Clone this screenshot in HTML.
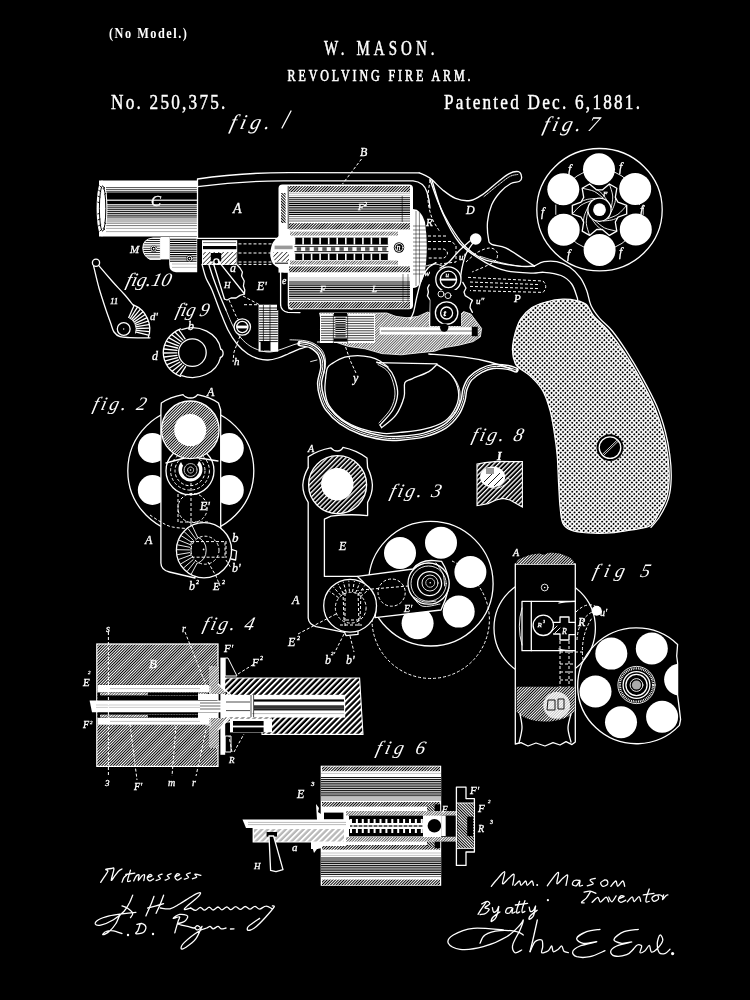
<!DOCTYPE html>
<html><head><meta charset="utf-8"><title>W. Mason Revolving Fire Arm</title>
<style>
html,body{margin:0;padding:0;background:#000;}
body{width:750px;height:1000px;overflow:hidden;font-family:"Liberation Serif",serif;}
svg{display:block;position:absolute;left:0;top:0;}
text{font-family:"Liberation Serif",serif;fill:#fff;}
.s{font-style:italic;}
text.s{stroke:#fff;stroke-width:.3;}
.l{fill:none;stroke:#fff;stroke-width:1.3;stroke-linecap:round;stroke-linejoin:round;}
.t{fill:none;stroke:#fff;stroke-width:0.9;stroke-linecap:round;stroke-linejoin:round;}
.d{fill:none;stroke:#fff;stroke-width:1;stroke-dasharray:3 2;}
.w{fill:#fff;stroke:none;}
.k{fill:#000;stroke:none;}
.kb{fill:#000;stroke:#fff;stroke-width:1.3;stroke-linejoin:round;}
</style></head><body>
<svg width="750" height="1000" viewBox="0 0 750 1000">
<filter id="sb" x="0" y="0" width="100%" height="100%" filterUnits="userSpaceOnUse"><feGaussianBlur stdDeviation="0.4"/></filter>
<g filter="url(#sb)">
<defs>
<pattern id="hf" width="2.0" height="2.0" patternUnits="userSpaceOnUse" patternTransform="rotate(-45)">
<rect width="2.0" height="2.0" fill="#000"/><rect width="2.0" height="1.0" fill="#fff"/></pattern>
<pattern id="hb" width="2.0" height="2.0" patternUnits="userSpaceOnUse" patternTransform="rotate(45)">
<rect width="2.0" height="2.0" fill="#000"/><rect width="2.0" height="1.0" fill="#fff"/></pattern>
<pattern id="hc" width="4.2" height="4.2" patternUnits="userSpaceOnUse" patternTransform="rotate(-45)">
<rect width="4.2" height="4.2" fill="#000"/><rect width="4.2" height="1.9" fill="#fff"/></pattern>
<pattern id="hm" width="3.3" height="3.3" patternUnits="userSpaceOnUse" patternTransform="rotate(-45)">
<rect width="3.3" height="3.3" fill="#000"/><rect width="3.3" height="1.3" fill="#fff"/></pattern>
<pattern id="hl" width="4" height="2.2" patternUnits="userSpaceOnUse">
<rect width="4" height="2.2" fill="#fff"/><rect width="4" height="0.8" y="1.4" fill="#000"/></pattern>
<pattern id="hd" width="4" height="2.2" patternUnits="userSpaceOnUse">
<rect width="4" height="2.2" fill="#000"/><rect width="4" height="0.9" fill="#fff"/></pattern>
<pattern id="gr" width="3.25" height="3.25" patternUnits="userSpaceOnUse" patternTransform="rotate(45)">
<rect width="3.25" height="3.25" fill="#fff"/><circle cx="1.6" cy="1.6" r="1" fill="#000"/></pattern>
<pattern id="fg" width="1.9" height="1.9" patternUnits="userSpaceOnUse" patternTransform="rotate(-45)">
<rect width="1.9" height="1.9" fill="#fff"/><rect width="1.9" height="0.6" fill="#000"/></pattern>
<pattern id="hw" width="3.2" height="3.2" patternUnits="userSpaceOnUse" patternTransform="rotate(-45)">
<rect width="3.2" height="3.2" fill="#fff"/><rect width="3.2" height="0.8" fill="#333"/></pattern>
</defs>
<rect width="750" height="1000" fill="#000"/>

<g id="hdr" stroke="#fff" stroke-width="0.45">
<g transform="translate(109,37.5) scale(0.85,1)"><text font-size="14.5" font-weight="bold" stroke-width="0" textLength="91.7" lengthAdjust="spacing">(No Model.)</text></g>
<g transform="translate(324,54.5) scale(0.75,1)"><text font-size="20" textLength="147.5" lengthAdjust="spacing">W. MASON.</text></g>
<g transform="translate(287.5,80.7) scale(0.75,1)"><text font-size="16" textLength="244" lengthAdjust="spacing" stroke-width="0.6">REVOLVING FIRE ARM.</text></g>
<g transform="translate(111,108.5) scale(0.8,1)"><text font-size="21.5" textLength="143" lengthAdjust="spacing">No. 250,375.</text></g>
<g transform="translate(444,108.5) scale(0.8,1)"><text font-size="21.5" textLength="245" lengthAdjust="spacing">Patented Dec. 6,1881.</text></g>
</g>
<g id="figl" class="s" font-size="19">
<g transform="translate(229,129) skewX(-14)"><text font-size="21" textLength="40" lengthAdjust="spacing">fig.</text></g><path class="l" d="M282 128 L291 111"/>
<g transform="translate(542,131) skewX(-14)"><text font-size="21" textLength="38" lengthAdjust="spacing">fig.</text><text x="45" font-size="21">7</text></g>
<g transform="translate(125,286) skewX(-14)"><text textLength="45" lengthAdjust="spacingAndGlyphs">fig.10</text></g>
<g transform="translate(175,316) skewX(-14)"><text textLength="33" lengthAdjust="spacingAndGlyphs">fig 9</text></g>
<g transform="translate(92,410) skewX(-14)"><text textLength="53" lengthAdjust="spacing">fig. 2</text></g>
<g transform="translate(389,497) skewX(-14)"><text textLength="51" lengthAdjust="spacing">fig. 3</text></g>
<g transform="translate(471,441) skewX(-14)"><text textLength="51" lengthAdjust="spacing">fig. 8</text></g>
<g transform="translate(592,577) skewX(-14)"><text textLength="57" lengthAdjust="spacing">fig 5</text></g>
<g transform="translate(202,630) skewX(-14)"><text textLength="51" lengthAdjust="spacing">fig. 4</text></g>
<g transform="translate(375,754) skewX(-14)"><text textLength="49" lengthAdjust="spacing">fig 6</text></g>
</g>

<g id="barrel">
<rect class="w" x="99" y="180.5" width="98.5" height="56" />
<rect class="k" x="106.5" y="192.4" width="90.5" height="7.2" />
<rect class="k" x="106.5" y="200.8" width="90.5" height="3.4" />
<path d="M106 187.6H197M106 189.6H197M106 191.4H197" stroke="#000" stroke-width="0.7" fill="none"/>
<path d="M106 205.9H197M106 207.8H197M106 209.7H197M106 211.6H197M106 213.4H197M106 215.2H197M106 217H197" stroke="#000" stroke-width="0.95" fill="none"/>
<path d="M106 219H197M106 221H197M106 223.2H197M106 225.6H197" stroke="#000" stroke-width="0.55" fill="none"/>
<path d="M106 228.4H197M106 231.6H197" stroke="#555" stroke-width="0.5" fill="none"/>
<ellipse class="w" cx="102" cy="208.5" rx="5.4" ry="28" />
<ellipse class="" cx="102.6" cy="208.5" rx="3.2" ry="22.5" fill="none" stroke="#000" stroke-width="1"/>
<path d="M98.2 190 l3 2 M97.6 196 l2.8 1.2 M97.4 202 l2.4 .8 M97.4 214 l2.4 -.6 M97.6 220 l2.8 -1 M98.2 226 l3 -1.6 M99.6 231.4 l2.6 -2.6 M99.6 185.6 l2.6 2.6 M104.6 187 l-1 2.4 M104.6 230 l-1 -2.4 M106 193 l-1.4 1.6 M106 224 l-1.4 -1.6" stroke="#000" stroke-width=".9"/>
</g>
<g id="lug">
<path d="M160.4 238 H153 Q142.8 239 142.8 248 Q143 256 150 259.4 H160.4Z" fill="url(#hl)" stroke="#fff" stroke-width="1"/>
<circle class="k" cx="153.7" cy="248.7" r="3.3" />
<circle class="t" cx="153.7" cy="248.7" r="2.6" />
<circle class="w" cx="153.7" cy="248.7" r="0.9" />
<rect class="w" x="160.4" y="237" width="8.8" height="22.4" />
<path d="M169.2 237 H197.2 V272.2 H176 Q169.2 272 169.2 264Z" fill="#fff"/>
<path d="M170 239.2H196.6M170 241.4H196.6M170 243.6H196.6M170 245.8H196.6M170 248H196.6M170 250.2H196.6M170 252.4H196.6M170 254.6H196.6M170 256.8H196.6M170 259H196.6M170 261.2H196.6" stroke="#000" stroke-width="1.1" fill="none"/>
<path d="M172 264H196.6M172 267.4H196.6" stroke="#777" stroke-width="0.5" fill="none"/>
<circle class="k" cx="189.5" cy="258.6" r="3.4" />
<circle class="t" cx="189.5" cy="258.6" r="2.5" />
<circle class="w" cx="189.5" cy="258.6" r="0.8" />
</g>
<g id="frame">
<path class="l" d="M197.5 238 V179 Q240 172.4 292 172.6 L419 172.8"/>
<path class="l" d="M197.5 186.6 Q240 181 284 180.8 L413 180.8 Q424 182 427 192 Q429.5 200 430 208"/>
<path class="l" d="M197.5 238.3 L277.5 238.3" />
<rect class="w" x="202" y="240.2" width="35.2" height="24.8" />
<rect class="k" x="203" y="246" width="33.4" height="3.2" />
<rect class="k" x="203" y="252" width="33.4" height="12" />
<rect x="203" y="252" width="33.4" height="12.4" fill="url(#hw)"/>
<rect class="k" x="210.8" y="253" width="10.4" height="8.4" />
<circle class="kb" cx="216.4" cy="261.5" r="2.6" />
<path d="M203 242.6H236" stroke="#000" stroke-width="0.6" fill="none"/>
<path class="d" d="M238.5 243.9 L273 243.9" stroke-width="1.2" stroke-dasharray="4 3"/>
<path class="d" d="M238.5 253 L273 253" stroke-width="1.2" stroke-dasharray="4 3"/>
<path class="d" d="M238.5 262 L273 262" stroke-width="1.2" stroke-dasharray="4 3"/>
<path class="d" d="M238.5 264.4 L273 264.4" stroke-width="1.2" stroke-dasharray="4 3"/>
<path class="l" d="M213.4 263.2 L224.4 298.8"  stroke-width="1.6"/>
<path class="l" d="M218.2 260.8 L244.6 294"  stroke-width="1.8"/>
<path class="l" d="M237.2 265 L240 268 L242.4 272 L241.6 276 L244.2 281 L243.4 286 L244.8 290 L244.4 294 L240 295.4 L236 298 L231 298 L227 300 L224.4 299" />
<path class="l" d="M202 264.4 C202.7 266.7 204.3 273.7 206 278 C207.7 282.3 209.7 284.5 212 290 C214.3 295.5 217.3 304.3 220 311 C222.7 317.7 225.2 324.5 228 330 C230.8 335.5 233.7 340 237 344 C240.3 348 244.5 351.6 248 354 C251.5 356.4 254.7 357.6 258 358.6 C261.3 359.6 264.7 360.1 268 360 C271.3 359.9 274.7 359 278 358 C281.3 357 284.7 355.4 288 354 C291.3 352.6 294.7 350.9 298 349.6 C301.3 348.3 306.3 346.9 308 346.4" />
<path class="l" d="M209 265 C209.8 267.3 211.8 274 213.6 279 C215.4 284 217.5 289.8 219.6 295 C221.7 300.2 224.9 307.5 226 310" />
<path class="t" d="M226 310 C227.2 312.7 230.5 321.3 233 326 C235.5 330.7 238.2 334.7 241 338 C243.8 341.3 246.8 343.9 250 346 C253.2 348.1 256.7 349.4 260 350.4 C263.3 351.4 266.3 352.2 270 352 C273.7 351.8 278 350.2 282 349 C286 347.8 290 345.8 294 344.6 C298 343.4 304 342.4 306 342" />
<path class="d" d="M229 300 L236 316 L240 322" />
<path class="d" d="M243 296 L259 304.5" />
<circle class="kb" cx="242.3" cy="327" r="8.2" stroke-width="1.8"/>
<circle class="l" cx="242.3" cy="327" r="5.6" stroke-width="1"/>
<rect class="w" x="236.8" y="325.6" width="11" height="2.8" />
<path class="d" d="M240 336 L234 352 L233 362" />
<rect class="w" x="258.6" y="304.7" width="19.6" height="47" />
<path d="M259.2 308H277.8M259.2 310.4H277.8M259.2 312.8H277.8M259.2 315.2H277.8M259.2 317.6H277.8M259.2 320H277.8M259.2 322.4H277.8M259.2 324.8H277.8M259.2 327.2H277.8M259.2 329.6H277.8M259.2 332H277.8M259.2 334.4H277.8M259.2 336.8H277.8M259.2 339.2H277.8M259.2 341.6H277.8" stroke="#000" stroke-width="0.9" fill="none"/>
<path d="M263.4 305V351M270 305V351" stroke="#000" stroke-width="0.7" fill="none"/>
<rect class="k" x="260.6" y="341" width="9.6" height="9.6" />
<path class="d" d="M244 304.7 L258 304.7" />
</g>

<g id="cyl">
<rect x="278.5" y="184.5" width="134.5" height="124.8" rx="4" fill="#fff"/>
<rect x="289" y="186" width="121" height="6.2" fill="url(#hf)"/>
<rect x="289" y="223.2" width="121" height="6.2" fill="url(#hf)"/>
<rect x="289" y="266.4" width="121" height="5.8" fill="url(#hf)"/>
<rect x="289" y="302" width="121" height="6.4" fill="url(#hf)"/>
<path d="M289 193.6H410M289 195.6H410" stroke="#888" stroke-width="0.5" fill="none"/>
<path d="M289 197.8H410M289 199.8H410M289 201.8H410M289 203.6H410M289 205.4H410M289 207.2H410M289 209H410M289 210.8H410M289 212.6H410M289 214.4H410" stroke="#000" stroke-width="1.05" fill="none"/>
<path d="M289 216.6H410M289 218.8H410M289 221H410" stroke="#000" stroke-width="0.6" fill="none"/>
<path d="M289 278H410M289 280H410" stroke="#888" stroke-width="0.5" fill="none"/>
<path d="M289 282H410M289 284H410M289 285.8H410M289 287.6H410M289 289.4H410M289 291.2H410M289 293H410M289 294.8H410M289 296.6H410" stroke="#000" stroke-width="1.05" fill="none"/>
<path d="M289 298.6H410M289 300.6H410" stroke="#000" stroke-width="0.6" fill="none"/>
<rect x="281" y="193" width="4.6" height="30" fill="url(#hb)"/>
<path class="" d="M288.2 186 L288.2 229" stroke="#000" stroke-width=".8"/>
<path d="M277 272.6 H288.4 V310 H277Z" fill="#000"/>
<path class="l" d="M288.4 272.6 V305 Q288.4 309 292 309.3"/>
<rect x="290" y="231.6" width="108" height="4" fill="url(#fg)"/>
<rect x="290" y="260.6" width="108" height="4" fill="url(#fg)"/>
<rect class="k" x="294.5" y="237.6" width="94" height="7" />
<rect class="k" x="294.5" y="253.6" width="94" height="6.4" />
<path d="M294.5 237.6 v7 M294.5 260 v-6.4" stroke="#fff" stroke-width="1.6"/>
<path d="M303.1 237.6 v7 M303.1 260 v-6.4" stroke="#fff" stroke-width="1.6"/>
<path d="M311.6 237.6 v7 M311.6 260 v-6.4" stroke="#fff" stroke-width="1.6"/>
<path d="M320.1 237.6 v7 M320.1 260 v-6.4" stroke="#fff" stroke-width="1.6"/>
<path d="M328.7 237.6 v7 M328.7 260 v-6.4" stroke="#fff" stroke-width="1.6"/>
<path d="M337.2 237.6 v7 M337.2 260 v-6.4" stroke="#fff" stroke-width="1.6"/>
<path d="M345.8 237.6 v7 M345.8 260 v-6.4" stroke="#fff" stroke-width="1.6"/>
<path d="M354.4 237.6 v7 M354.4 260 v-6.4" stroke="#fff" stroke-width="1.6"/>
<path d="M362.9 237.6 v7 M362.9 260 v-6.4" stroke="#fff" stroke-width="1.6"/>
<path d="M371.4 237.6 v7 M371.4 260 v-6.4" stroke="#fff" stroke-width="1.6"/>
<path d="M380 237.6 v7 M380 260 v-6.4" stroke="#fff" stroke-width="1.6"/>
<path d="M388.6 237.6 v7 M388.6 260 v-6.4" stroke="#fff" stroke-width="1.6"/>
<path d="M294.5 246.6H388.5M294.5 251.6H388.5" stroke="#000" stroke-width="0.9" fill="none"/>
<rect class="" x="296.7" y="247.2" width="4.4" height="3.6" fill="#555"/>
<rect class="" x="305.2" y="247.2" width="4.4" height="3.6" fill="#555"/>
<rect class="" x="313.8" y="247.2" width="4.4" height="3.6" fill="#555"/>
<rect class="" x="322.3" y="247.2" width="4.4" height="3.6" fill="#555"/>
<rect class="" x="330.9" y="247.2" width="4.4" height="3.6" fill="#555"/>
<rect class="" x="339.4" y="247.2" width="4.4" height="3.6" fill="#555"/>
<rect class="" x="348" y="247.2" width="4.4" height="3.6" fill="#555"/>
<rect class="" x="356.6" y="247.2" width="4.4" height="3.6" fill="#555"/>
<rect class="" x="365.1" y="247.2" width="4.4" height="3.6" fill="#555"/>
<rect class="" x="373.6" y="247.2" width="4.4" height="3.6" fill="#555"/>
<rect class="" x="382.2" y="247.2" width="4.4" height="3.6" fill="#555"/>
<circle class="k" cx="399" cy="247.5" r="5.2" />
<circle class="t" cx="399" cy="247.5" r="4" />
<text class="s" x="396.6" y="250" font-size="8" >n</text>
<path d="M391 241 a10 10 0 0 0 0 13" class="t" stroke-dasharray="1.5 1.2"/>
<path d="M289 231.5 Q282 233 278.8 236 Q272 242 271.3 246.7 Q270 252 270.3 256 Q271 261 272.9 263.7 Q276 267 278.8 268 Q280 271 284 272.4 H289 Z" fill="#fff"/>
<path d="M273.4 252 H289 V261.8 H276 L273.4 259Z" fill="url(#hw)"/>
<rect class="" x="274.6" y="245.6" width="18" height="3.6" fill="#999"/>
<path class="" d="M275 263.2 L288 263.2" stroke="#000" stroke-width="1"/>
<path class="l" d="M280.6 271 L280.6 305" />
<path class="l" d="M280.6 305 Q281 311 288 312.4 L300 312.6"/>
<path d="M402.2 196V222" stroke="#000" stroke-width="0.6" fill="none"/>
<path d="M403 274V302M408 274V302" stroke="#000" stroke-width="0.5" fill="none"/>
</g>
<g id="ratchet">
<path d="M413 209 Q421 209 425 222 Q428.6 247 425 272 Q421 288 413 288Z" fill="#fff"/>
<path d="M416 211V286M419.4 211V286" stroke="#000" stroke-width="0.5" fill="none"/>
<path d="M413 226H427M413 230H427M413 234H427M413 238H427M413 242H427M413 246H427M413 250H427M413 254H427M413 258H427M413 262H427M413 266H427M413 270H427M413 274H427" stroke="#000" stroke-width="0.5" fill="none"/>
</g>
<text class="s" x="151" y="205.6" font-size="15" >C</text>
<text class="s" x="233" y="213" font-size="14" >A</text>
<text class="s" x="130" y="252.6" font-size="11" textLength="11">M</text>
<text class="s" x="360" y="156" font-size="12" >B</text>
<path class="d" d="M361.5 159 L342.5 184" stroke-dasharray="3 1.5"/>
<text class="s" x="358" y="210" font-size="9" >F</text>
<text class="s" x="364" y="206" font-size="6" >2</text>
<text class="s" x="320" y="292" font-size="9" >F</text>
<text class="s" x="372" y="292" font-size="9" >L</text>
<text class="s" x="257" y="290" font-size="12" >E'</text>
<text class="s" x="230" y="272" font-size="12" >a</text>
<text class="s" x="224" y="288" font-size="9" >H</text>
<text class="s" x="282" y="284" font-size="10" >e</text>

<g id="lower">
<path class="" d="M319.6 313 L386.8 313 L396 316.4 L407 317.8 L418 316.4 L427.6 312 L430 313 L430 326 L461 326 L461 314 L463.6 311.6 L470.8 314 L478 323.6 L481.6 328.4 L480.4 336.8 L473.2 341.6 L458.8 345.2 L444.4 347.6 L434.8 351.2 L418 352.9 L401.2 354.8 L382 353.6 L365.2 348.8 L348.4 346.4 L334 341.6 L324.4 338 L320.4 330 L321.4 322Z" fill="url(#fg)" stroke="#fff" stroke-width="0.8"/>
<rect class="w" x="320" y="314" width="55" height="29" />
<path d="M321 316.4H374M321 318.8H374M321 321.2H374M321 323.6H374M321 326H374M321 328.4H374M321 330.8H374M321 333.2H374M321 335.6H374M321 338H374M321 340.4H374" stroke="#000" stroke-width="0.75" fill="none"/>
<rect class="k" x="334" y="313" width="13" height="3" />
<rect class="k" x="334" y="338.4" width="13" height="3.2" />
<rect class="" x="335.4" y="317" width="10.2" height="20.4" fill="url(#hd)"/>
<path d="M333.4 314V343M347.6 314V343" stroke="#000" stroke-width="0.6" fill="none"/>
<rect class="w" x="379.6" y="327.2" width="98.4" height="7.4" />
<path d="M381 331H472" stroke="#000" stroke-width="0.6" fill="none"/>
<rect class="k" x="471.8" y="326.8" width="6" height="9.4" />
<path class="l" d="M429.2 284.8 L427.6 288 L428.4 292 L427.4 296 L430.4 300.4 L429.8 326" />
<path class="l" d="M462.8 282.4 L466 288 L464 292 L465.2 295.6 L469 298 L472.4 300.4 L470.6 304 L470 307.6 L472.4 312.4" />
<path class="l" d="M436 262.6 C434.7 263.5 430.3 265.4 428 268 C425.7 270.6 423.8 273.3 422 278 C420.2 282.7 418.4 290.3 417 296 C415.6 301.7 414.8 308.1 413.6 312 C412.4 315.9 410.6 318.3 410 319.6" stroke-width="2"/>
</g>
<g id="hammer">
<path class="l" d="M419.2 172.8 C421 173.7 426 175.2 429.9 178.1 C433.8 180.9 438.4 186.5 442.7 189.9 C447 193.3 450.9 196.6 455.5 198.4 C460.1 200.2 465.8 201.2 470.4 200.5 C475 199.8 478.9 196.9 483.2 194.1 C487.5 191.3 491.7 186.9 496 183.5 C500.3 180.1 505.1 175.9 508.8 173.9 C512.5 171.9 516.3 171.2 518.4 171.7 C520.5 172.2 521.4 175.5 521.6 177.1 C521.8 178.7 521.3 180.2 519.5 181.3 C517.7 182.4 514.1 181.7 510.9 183.5 C507.7 185.3 503.5 188.4 500.3 192 C497.1 195.6 493.8 199.8 491.7 204.8 C489.6 209.8 488 216.2 487.5 221.9 C487 227.6 487.8 235.2 488.5 238.9 C489.2 242.6 488.8 242.8 491.7 244.3 C494.6 245.8 500.4 245.4 505.6 247.8 C510.8 250.2 517.9 255.5 522.7 258.5 C527.5 261.5 532.5 264.8 534.4 266" />
<path class="t" d="M484 196.6 C486.2 194.8 492.7 189.3 497 186 C501.3 182.7 506.1 178.5 509.6 176.6 C513.1 174.7 516.6 174.8 518 174.4" stroke-dasharray="1 1"/>
<path class="l" d="M429.9 179.2 C431.3 183.1 435.2 195.2 438.4 202.7 C441.6 210.2 444.8 216.9 449.1 224 C453.4 231.1 458.7 239.6 464 245.3 C469.3 251 475.8 255.3 481.1 258.1 C486.4 261 489.6 261 496 262.4 C502.4 263.8 513.1 265.6 519.5 266.2 C525.9 266.8 531.9 266 534.4 266" />
<path class="l" d="M432 180.3 C433.8 185.8 438.1 202.8 442.7 213.3 C447.3 223.8 452.6 235 459.7 243.2 C466.8 251.4 477.5 257.8 485.3 262.4 C493.1 267 498.9 269.1 506.7 270.9 C514.5 272.7 526.1 272.9 532.3 273.1 C538.5 273.3 539.2 271.9 544 272.3 C548.8 272.7 556.4 273.6 561 275.5 C565.6 277.4 569 280.4 571.7 284 C574.4 287.6 576 294.3 577 297 C578 299.7 577.5 299.5 577.6 300" />
<path class="t" d="M480 256.3 C483.6 257.4 494.2 261 501.3 262.7 C508.4 264.4 517.2 266.1 522.7 266.6 C528.2 267.2 532.5 266.1 534.4 266" />
<path class="l" d="M534.4 266 C536 265.3 540.3 262.4 544 261.7 C547.7 261 552.5 260.8 556.8 261.7 C561.1 262.6 565.7 264.3 569.6 267 C573.5 269.7 577.4 273.8 580.3 277.7 C583.1 281.6 584.9 285.9 586.7 290.5 C588.5 295.1 588.9 300.8 591 305.4 C593.1 310 596 313.9 599.5 318.2 C603 322.5 607.9 325.6 612.3 331 C616.7 336.4 620.9 342.5 626 350.4 C631.1 358.3 637.6 369.2 642.8 378.6 C648 388 653.2 397.7 657 406.6 C660.8 415.5 663.3 423.9 665.4 432 C667.5 440.1 668.8 447.3 669.8 455 C670.8 462.7 671.4 471.1 671.2 478.4 C671 485.7 670.3 492.3 668.4 498.6 C666.5 504.9 662.9 511.2 660 516 C657.1 520.8 652.5 525.5 651 527.4" />
<circle class="w" cx="475.7" cy="239" r="5.8" />
<path class="d" d="M430 180 C429.7 183.3 427.7 193.7 428 200 C428.3 206.3 430 212.7 432 218 C434 223.3 438.7 229.7 440 232" />
<path class="d" d="M428 236 L446 236" />
<path class="d" d="M428 241.5 L452 241.5 L456 246 L456 262 L440 264" />
<path class="d" d="M428 249 H444 Q451 253 444 258 H428"/>
<path class="l" d="M473 243 C471.8 244.8 467.8 249.8 466 254 C464.2 258.2 463 263.3 462 268 C461 272.7 460.3 279.7 460 282" stroke-width="1.6"/>
<path class="l" d="M470 241 C468 242.8 461.5 248.5 458 252 C454.5 255.5 452 259.3 449 262 C446 264.7 441.5 267 440 268" />
<path class="t" d="M426 266 C427.7 265.7 432.7 263.7 436 264 C439.3 264.3 444.3 267.3 446 268" />
<path class="d" d="M466 262 C468 260.3 474 254.3 478 252 C482 249.7 486.8 248 490 248 C493.2 248 496 250 497 252 C498 254 497.8 257.7 496 260 C494.2 262.3 490 264 486 266 C482 268 474.3 271 472 272" />
<circle class="kb" cx="448.4" cy="279.4" r="12.6" stroke-width="1.7"/>
<circle class="l" cx="448.4" cy="279.4" r="8.2" stroke-width="1.2"/>
<rect class="w" x="440.6" y="278.6" width="15.6" height="2" />
<text class="s" x="445.6" y="277" font-size="7" >u</text>
<rect class="k" x="430.4" y="290" width="30.6" height="36" />
<circle class="kb" cx="446.6" cy="313" r="11.2" stroke-width="1.6"/>
<circle class="l" cx="446.6" cy="313" r="6" stroke-width="1.2"/>
<text class="s" x="443.6" y="316" font-size="9" font-weight="bold">t</text>
<circle class="k" cx="444.2" cy="327.6" r="4.2" />
<circle class="t" cx="441" cy="294" r="3" />
<circle class="t" cx="448" cy="295.6" r="3" />
<path class="d" d="M468 277.4 L543 281 Q548.5 286.6 543 292.4 L470 290.6" stroke-width="1.1"/>
<path class="d" d="M470 282 L540 284.6 M470 286.4 L540 288.6" stroke-width="0.9"/>
<text class="s" x="466" y="214" font-size="12" >D</text>
<text class="s" x="426" y="226" font-size="11" >R</text>
<text class="s" x="424" y="276" font-size="9" >w</text>
<text class="s" x="459" y="260" font-size="9" >u'</text>
<text class="s" x="476" y="304" font-size="9" >u"</text>
<text class="s" x="514" y="302" font-size="11" >P</text>
</g>

<g id="grip">
<path d="M515.2 332.8 C516.6 327.7 518 323 520.8 318.8 C523.6 314.6 527.8 310.4 532 307.6 C536.2 304.8 540.9 303.4 546 302 C551.1 300.6 557.7 299.4 562.8 299.2 C567.9 299 572.8 299.7 576.8 300.6 C580.8 301.5 583.8 302.2 586.6 304.8 C589.4 307.4 590.1 311.8 593.6 316 C597.1 320.2 602.5 323.9 607.6 330 C612.7 336.1 618.8 344 624.4 352.4 C630 360.8 636.1 371.1 641.2 380.4 C646.3 389.7 651.5 399.5 655.2 408.4 C658.9 417.3 661.5 425.7 663.6 433.6 C665.7 441.5 666.9 448.5 667.8 456 C668.7 463.5 669.4 471.4 669.2 478.4 C669 485.4 668.3 491.9 666.4 498 C664.5 504.1 660.8 510.1 658 514.8 C655.2 519.5 654.3 523.4 649.6 526 C644.9 528.6 636.5 529 630 530.2 C623.5 531.4 617.4 532.5 610.4 533 C603.4 533.5 594.5 533.5 588 533 C581.5 532.5 575.4 531.8 571.2 530.2 C567 528.6 564.7 527.2 562.8 523.2 C560.9 519.2 560.7 512.9 560 506.4 C559.3 499.9 559.1 492.4 558.6 484 C558.1 475.6 557.9 464.4 557.2 456 C556.5 447.6 555.6 441.1 554.4 433.6 C553.2 426.1 552.1 418.2 550.2 411.2 C548.3 404.2 546.2 397.2 543.2 391.6 C540.2 386 535.7 381.3 532 377.6 C528.3 373.9 523.6 371.5 520.8 369.2 C518 366.9 516.6 366.9 515.2 363.6 C513.8 360.3 512.4 354.7 512.4 349.6 C512.4 344.5 513.8 337.9 515.2 332.8Z" fill="url(#gr)" stroke="#fff" stroke-width="1.2"/>
<circle class="k" cx="610" cy="447.6" r="13.4" />
<circle class="l" cx="610" cy="447.6" r="10.8" stroke-width="1.3"/>
<path d="M602.4 454.4 L617 440.2 M603.4 455.6 L618 441.4" stroke="#fff" stroke-width="0.8"/>
</g>
<g id="guard">
<path d="M300 343.6 C301.8 344 307.7 344.3 311 346 C314.3 347.7 318 350.5 320 354 C322 357.5 322.9 362 322.8 366.8 C322.7 371.6 319.8 377.9 319.6 382.8 C319.4 387.7 320.3 391.7 321.6 396 C322.9 400.3 324 404.3 327.2 408.6 C330.4 412.9 335.2 418 340.8 422 C346.4 426 353.7 429.8 360.8 432.4 C367.9 435 376.7 436.8 383.2 437.8 C389.7 438.8 393.2 438.7 400 438.2 C406.8 437.7 416.5 437 424 435 C431.5 433 439.3 429.9 444.8 426.4 C450.3 422.9 454 418.3 457 414 C460 409.7 461.7 404.5 463 400.4 C464.3 396.3 463.8 392.8 465 389.2 C466.2 385.6 467.7 381.7 470.4 378.6 C473.1 375.5 477.2 372.6 481 370.6 C484.8 368.6 488.5 367.1 493 366.6 C497.5 366.1 504.2 366.8 508 367.4 C511.8 368 514.7 369.6 516 370" fill="none" stroke="#fff" stroke-width="5.4" stroke-linecap="round"/>
<path d="M300 343.6 C301.8 344 307.7 344.3 311 346 C314.3 347.7 318 350.5 320 354 C322 357.5 322.9 362 322.8 366.8 C322.7 371.6 319.8 377.9 319.6 382.8 C319.4 387.7 320.3 391.7 321.6 396 C322.9 400.3 324 404.3 327.2 408.6 C330.4 412.9 335.2 418 340.8 422 C346.4 426 353.7 429.8 360.8 432.4 C367.9 435 376.7 436.8 383.2 437.8 C389.7 438.8 393.2 438.7 400 438.2 C406.8 437.7 416.5 437 424 435 C431.5 433 439.3 429.9 444.8 426.4 C450.3 422.9 454 418.3 457 414 C460 409.7 461.7 404.5 463 400.4 C464.3 396.3 463.8 392.8 465 389.2 C466.2 385.6 467.7 381.7 470.4 378.6 C473.1 375.5 477.2 372.6 481 370.6 C484.8 368.6 488.5 367.1 493 366.6 C497.5 366.1 504.2 366.8 508 367.4 C511.8 368 514.7 369.6 516 370" fill="none" stroke="#000" stroke-width="2.5"/>
<path d="M300 343.6 C301.8 344 307.7 344.3 311 346 C314.3 347.7 318 350.5 320 354 C322 357.5 322.9 362 322.8 366.8 C322.7 371.6 319.8 377.9 319.6 382.8 C319.4 387.7 320.3 391.7 321.6 396 C322.9 400.3 324 404.3 327.2 408.6 C330.4 412.9 335.2 418 340.8 422 C346.4 426 353.7 429.8 360.8 432.4 C367.9 435 376.7 436.8 383.2 437.8 C389.7 438.8 393.2 438.7 400 438.2 C406.8 437.7 416.5 437 424 435 C431.5 433 439.3 429.9 444.8 426.4 C450.3 422.9 454 418.3 457 414 C460 409.7 461.7 404.5 463 400.4 C464.3 396.3 463.8 392.8 465 389.2 C466.2 385.6 467.7 381.7 470.4 378.6 C473.1 375.5 477.2 372.6 481 370.6 C484.8 368.6 488.5 367.1 493 366.6 C497.5 366.1 504.2 366.8 508 367.4 C511.8 368 514.7 369.6 516 370" fill="none" stroke="#fff" stroke-width="1"/>
<path class="t" d="M290 339.8 C292.3 339.9 300 340 304 340.6 C308 341.2 310.9 341.9 314 343.6 C317.1 345.3 320.5 347.7 322.4 350.8 C324.3 353.9 325.4 358 325.6 362 C325.8 366 323.8 372.7 323.4 374.8" />
<path class="l" d="M325.6 378 C325.9 376.3 326.3 370.4 327.4 368 C328.5 365.6 329.1 365.4 332 363.6 C334.9 361.8 340.5 358.5 344.8 357.2 C349.1 355.9 353.3 355.6 357.6 355.6 C361.9 355.6 366.7 356.3 370.4 357.2 C374.1 358.1 377.1 359.4 380 361 C382.9 362.6 386.7 366 388 367" stroke-width="1.5"/>
<path class="l" d="M436.8 364.4 C439.2 366.1 447.6 370.4 451.2 374.8 C454.8 379.2 457.6 385.5 458.4 390.8 C459.2 396.1 458.3 401.7 456 406.8 C453.7 411.9 450.1 417.5 444.8 421.2 C439.5 424.9 431.5 427.3 424 429.2 C416.5 431.1 406.8 431.7 400 432.4 C393.2 433.1 389.7 434 383.2 433.4 C376.7 432.8 367.7 431 360.8 428.6 C353.9 426.2 346.9 422.9 341.6 419 C336.3 415.1 331.6 409.9 328.8 405.2 C326 400.5 325.5 395.5 325 391 C324.5 386.5 325.5 380.2 325.6 378" stroke-width="1.5"/>
<path class="t" d="M440 366.4 C442.1 368 449.3 371.9 452.6 376 C455.9 380.1 459 385.8 459.8 391 C460.6 396.2 459.8 402.2 457.6 407.4 C455.4 412.6 448.3 419.9 446.4 422.4" />
<path class="l" d="M428.8 354 C434.7 354.5 453.9 355.9 464 357.2 C474.1 358.5 481.6 360 489.6 362 C497.6 364 508.3 368 512 369.2" />
<path class="l" d="M376.8 362 C378.7 363 385.1 365.3 388 368 C390.9 370.7 392.8 373.7 394.4 378 C396 382.3 397.9 388.7 397.6 394 C397.3 399.3 395.7 404.8 392.8 410 C389.9 415.2 382.1 422.5 380 425" stroke-width="1.4"/>
<path class="t" d="M378 364.6 C379.4 365.5 384.3 367.6 386.6 370 C388.9 372.4 390.6 375 392 379 C393.4 383 395.2 389 395 394 C394.8 399 393.3 404.2 390.6 409 C387.9 413.8 380.9 420.7 379 423" />
<path class="l" d="M381.6 427.6 C384 425.5 392.3 419.9 396 414.8 C399.7 409.7 402.5 402.5 404 397.2 C405.5 391.9 403.5 385.9 404.8 382.8 C406.1 379.7 408 380.7 412 378.8 C416 376.9 424.7 374 428.8 371.6 C432.9 369.2 435.5 365.6 436.8 364.4" stroke-width="1.6"/>
<path class="l" d="M380 425 L381.6 427.6" />
<path class="l" d="M376.8 362.6 L437 363.8" stroke-width="1.6"/>
<text class="s" x="353" y="382" font-size="12" >y</text>
<path class="d" d="M345.6 347 L350 360 L356 373"  stroke-dasharray="3 1.5 1 1.5"/>
<path class="t" d="M310.6 361.6 L317 360" />
<path class="d" d="M317 342 L327 342" />
</g>

<g id="fig7">
<ellipse class="l" cx="599.5" cy="209.7" rx="62.7" ry="61.2" stroke-width="1.5"/>
<circle class="t" cx="599.5" cy="209.7" r="40.5" />
<rect class="k" x="555.5" y="205" width="14" height="9.4" />
<rect class="k" x="629.5" y="205" width="14" height="9.4" />
<path class="t" d="M555.8 205 L555.8 214.4" />
<path class="t" d="M643.2 205 L643.2 214.4" />
<circle class="w" cx="599" cy="169.2" r="16" />
<circle class="w" cx="635.2" cy="188.9" r="16" />
<circle class="w" cx="635.8" cy="229.4" r="16" />
<circle class="w" cx="599.6" cy="250" r="16" />
<circle class="w" cx="563.7" cy="229.8" r="16" />
<circle class="w" cx="563.3" cy="189.3" r="16" />
<path class="l" d="M618 202.2 L626.7 205.4 L626.7 214 L618 217.2 L615.3 222 L616.8 231.1 L609.4 235.4 L602.3 229.5 L596.7 229.5 L589.6 235.4 L582.2 231.1 L583.7 222 L581 217.2 L572.3 214 L572.3 205.4 L581 202.2 L583.7 197.4 L582.2 188.3 L589.6 184 L596.7 189.9 L602.3 189.9 L609.4 184 L616.8 188.3 L615.3 197.4Z" stroke-width="1.2"/>
<path class="t" d="M626.2 205.9 C624.9 207.3 621.1 212.1 617.9 214.3 C614.8 216.5 609 218.1 607.2 218.9" />
<path class="t" d="M617.8 217.8 C616.8 218.2 614.1 219.5 611.8 220 C609.4 220.5 605 220.8 603.6 221" />
<path class="t" d="M616.1 231 C614.2 230.5 608.2 229.6 604.7 228 C601.3 226.3 597 222.1 595.4 221" />
<path class="t" d="M601.6 229.6 C600.8 228.9 598.4 227.2 596.7 225.5 C595.1 223.7 592.6 220 591.8 218.9" />
<path class="t" d="M589.4 234.7 C588.9 232.8 586.6 227.2 586.3 223.4 C586 219.5 587.5 213.7 587.7 211.8" />
<path class="t" d="M583.3 221.5 C583.5 220.4 583.7 217.5 584.5 215.2 C585.2 212.9 587.1 208.9 587.7 207.6" />
<path class="t" d="M572.8 213.5 C574.1 212.1 577.9 207.3 581.1 205.1 C584.2 202.9 590 201.3 591.8 200.5" />
<path class="t" d="M581.2 201.6 C582.2 201.2 584.9 199.9 587.2 199.4 C589.6 198.9 594 198.6 595.4 198.4" />
<path class="t" d="M582.9 188.4 C584.8 188.9 590.8 189.8 594.3 191.4 C597.7 193.1 602 197.3 603.6 198.4" />
<path class="t" d="M597.4 189.8 C598.2 190.5 600.6 192.2 602.3 193.9 C603.9 195.7 606.4 199.4 607.2 200.5" />
<path class="t" d="M609.6 184.7 C610.1 186.6 612.4 192.2 612.7 196 C613 199.9 611.5 205.7 611.3 207.6" />
<path class="t" d="M615.7 197.9 C615.5 199 615.3 201.9 614.5 204.2 C613.8 206.5 611.9 210.5 611.3 211.8" />
<circle class="kb" cx="599.5" cy="209.7" r="11.6" stroke-width="1"/>
<circle class="w" cx="599.5" cy="209.7" r="6.4" />
<text class="s" x="568" y="173" font-size="12" >f</text>
<text class="s" x="619" y="171" font-size="12" >f</text>
<text class="s" x="640" y="214" font-size="12" >f</text>
<text class="s" x="619" y="256" font-size="12" >f</text>
<text class="s" x="567" y="258" font-size="12" >f</text>
<text class="s" x="541" y="216" font-size="12" >f</text>
<text class="s" x="603" y="196" font-size="7" >F</text>
</g>

<g id="fig2">
<circle class="l" cx="190.8" cy="470.7" r="63" stroke-width="1.5"/>
<ellipse class="w" cx="152.4" cy="448" rx="14.6" ry="15" />
<ellipse class="w" cx="152.4" cy="490" rx="14.6" ry="15" />
<ellipse class="w" cx="229.2" cy="448" rx="14.6" ry="15" />
<ellipse class="w" cx="229.2" cy="490" rx="14.6" ry="15" />
<path class="kb" d="M160.9 410 L161.3 403 Q170 397 183 394.6 Q185.6 398 190.6 398 Q195.4 398 197.6 394.6 Q210 397 218.5 403 L220.7 410 V568 Q220.7 574.6 214 575 L195 575.6 L195 578 L169.5 572 Q161 570 160.9 563Z" stroke-width="1.6"/>
<circle class="kb" cx="190" cy="470.7" r="24" stroke-width="1.2"/>
<circle class="d" cx="190" cy="470.7" r="19.4" stroke-dasharray="2 1.6"/>
<circle class="d" cx="190" cy="470.7" r="15" stroke-dasharray="2 1.6"/>
<path d="M181 462 A12 12 0 1 0 199 461 A10 13 0 0 1 181 462Z" fill="#fff"/>
<circle class="k" cx="190.6" cy="470" r="8.6" />
<circle class="t" cx="190.6" cy="470" r="6.4" stroke-dasharray="1.2 1"/>
<circle class="t" cx="190.6" cy="470" r="3" stroke-dasharray="1 1"/>
<circle class="w" cx="190.6" cy="470" r="0.8" />
<path class="l" d="M166 463 L190 456.5 L218 461" />
<circle class="" cx="190.3" cy="429.8" r="28.8" fill="url(#hf)" stroke="#fff" stroke-width="1.3"/>
<circle class="w" cx="190.2" cy="430.1" r="16" />
<circle class="d" cx="192.6" cy="508" r="14.6" />
<path class="d" d="M178 494 L178 522 L208 522" />
<path class="d" d="M191 478 L191 540" />
<path class="d" d="M150 515 C151.8 516.2 157.2 520 161 522 C164.8 524 166.8 525.9 172.5 527 C178.2 528.1 188.2 528.8 195 528.5 C201.8 528.2 210 526 213 525.5" />
<circle class="kb" cx="204" cy="550.2" r="27.6" stroke-width="1.5"/>
<path class="t" d="M197.2 563 L191.4 573.9" stroke-width="1.1"/>
<path class="t" d="M195 561.5 L187.3 571.2" stroke-width="1.1"/>
<path class="t" d="M193.1 559.7 L183.8 567.8" stroke-width="1.1"/>
<path class="t" d="M191.5 557.6 L180.9 563.8" stroke-width="1.1"/>
<path class="t" d="M190.4 555.2 L178.8 559.4" stroke-width="1.1"/>
<path class="t" d="M189.7 552.6 L177.6 554.6" stroke-width="1.1"/>
<path class="t" d="M189.5 549.9 L177.2 549.7" stroke-width="1.1"/>
<path class="t" d="M189.8 547.3 L177.7 544.9" stroke-width="1.1"/>
<path class="t" d="M190.6 544.8 L179.2 540.2" stroke-width="1.1"/>
<path class="t" d="M191.8 542.4 L181.4 535.8" stroke-width="1.1"/>
<path class="t" d="M193.4 540.3 L184.4 531.9" stroke-width="1.1"/>
<path class="t" d="M195.4 538.5 L188.1 528.7" stroke-width="1.1"/>
<path class="t" d="M197.6 537.2 L192.3 526.1" stroke-width="1.1"/>
<path class="t" d="M197.9 537.1 A14.5 14.5 0 0 1 197.9 563.3"/>
<circle class="d" cx="205" cy="550.2" r="14" />
<rect class="d" x="191" y="541.6" width="34" height="15.6" />
<path class="d" d="M226 541 L226 558" />
<circle class="w" cx="203.6" cy="549.4" r="0.9" />
<path class="l" d="M231.4 549.4 L236.6 551 L235.6 560 L231 559"/>
<path class="d" d="M208 562 L216 576 L220 586" />
<path class="d" d="M226 560 L231 568" />
<text class="s" x="207" y="396" font-size="12" >A</text>
<text class="s" x="145" y="544" font-size="12" >A</text>
<text class="s" x="200" y="510" font-size="12" >E'</text>
<text class="s" x="232" y="542" font-size="13" >b</text>
<text class="s" x="232" y="572" font-size="12" >b'</text>
<text class="s" x="189" y="590" font-size="12" >b</text>
<text class="s" x="196" y="584" font-size="6" >2</text>
<text class="s" x="213" y="590" font-size="11" >E</text>
<text class="s" x="222" y="584" font-size="6" >2</text>
</g>

<g id="fig3">
<path class="l" stroke-width="1.5" d="M308.2 467.6 V456.8 Q318 450 331 447.8 Q333.4 451 337.4 451 Q341.2 451 343 447.4 Q356 450 367 458 L367.6 467.6 Q371.8 476 372.4 485 Q372.4 494 367.6 502.4 V515.6 Q349 513.6 331 516.2 L324.4 519.2 V576.4 H357.5"/>
<path class="l" stroke-width="1.5" d="M308.2 467.6 Q303.4 476 302.8 485 Q302.8 494 308.2 502.4 V618 Q308.6 624 316 626.6 L344.6 632.4"/>
<path class="l" d="M344.6 632.4 L346 635.6 L358 634.4 L358 631"/>
<circle class="" cx="337.6" cy="484.7" r="29" fill="url(#hm)" stroke="#fff" stroke-width="1.3"/>
<circle class="w" cx="337.3" cy="484.2" r="16.2" />
<circle class="l" cx="430.8" cy="583.7" r="62.3" stroke-width="1.5"/>
<circle class="w" cx="400" cy="553" r="16" />
<circle class="w" cx="441" cy="542.7" r="16" />
<circle class="w" cx="470.4" cy="572" r="16" />
<circle class="w" cx="458.7" cy="611.6" r="16" />
<circle class="w" cx="417.6" cy="623.3" r="16" />
<path class="d" d="M372 619 A58.7 58.7 0 1 0 478 585 Q468 568 452 561"/>
<path class="kb" d="M357.5 576.4 L413 569 Q420 559.6 434 560.6 L441.6 561.4 Q450 574 448.6 588 Q446 600 441 610 L375 617.6 Q380 596 357.5 576.4Z"/>
<circle class="kb" cx="350.1" cy="605.7" r="26.4" stroke-width="1.5"/>
<path class="d" d="M338.6 597.7 L329.6 591.4" stroke-dasharray="2.4 1.4"/>
<path class="d" d="M340.7 595.3 L333.4 587.1" stroke-dasharray="2.4 1.4"/>
<path class="d" d="M343.3 593.5 L338 583.8" stroke-dasharray="2.4 1.4"/>
<path class="d" d="M346.2 592.2 L343.2 581.7" stroke-dasharray="2.4 1.4"/>
<path class="d" d="M349.4 591.7 L348.8 580.7" stroke-dasharray="2.4 1.4"/>
<path class="d" d="M352.5 591.9 L354.4 581.1" stroke-dasharray="2.4 1.4"/>
<path class="d" d="M355.6 592.8 L359.9 582.7" stroke-dasharray="2.4 1.4"/>
<path class="d" d="M358.3 594.4 L364.8 585.5" stroke-dasharray="2.4 1.4"/>
<path class="d" d="M360.7 596.5 L369 589.3" stroke-dasharray="2.4 1.4"/>
<circle class="d" cx="350.7" cy="607.7" r="15.4" />
<path class="d" d="M343 592 L344 620 L360 620 L361 592" />
<path class="d" d="M340 625 L362 625" />
<path class="d" d="M345 626 L345 590" />
<path class="d" d="M359 626 L358 590" />
<circle class="d" cx="391.6" cy="592.6" r="13.6" />
<path class="d" d="M361 590 L420 585" />
<circle class="kb" cx="428.6" cy="583.6" r="20.6" stroke-width="1.5"/>
<circle class="t" cx="428.6" cy="583.6" r="17.6" />
<circle class="l" cx="429.6" cy="583.6" r="12" />
<circle class="t" cx="430" cy="583" r="8" />
<circle class="t" cx="430.2" cy="582.8" r="4.4" stroke-dasharray="1.2 1"/>
<circle class="w" cx="430.2" cy="582.8" r="0.8" />
<path class="t" d="M414 597 C415.7 597.8 420.3 601.3 424 602 C427.7 602.7 434 601.2 436 601" />
<path class="t" d="M411 594 C412.8 596 417.2 604.3 422 606 C426.8 607.7 437 604.3 440 604" />
<path class="t" d="M436 563 C437.2 564.8 441.6 570.2 443 574 C444.4 577.8 444.3 584 444.6 586" />
<path class="d" d="M336 614 L298 634" />
<path class="d" d="M344 634 L334 654" />
<path class="d" d="M350 636 L354 652" />
<text class="s" x="308" y="452" font-size="10" >A</text>
<text class="s" x="339" y="550" font-size="12" >E</text>
<text class="s" x="292" y="604" font-size="12" >A</text>
<text class="s" x="404" y="612" font-size="10" >E'</text>
<text class="s" x="288" y="646" font-size="12" >E</text>
<text class="s" x="297" y="640" font-size="6" >2</text>
<text class="s" x="325" y="664" font-size="12" >b</text>
<text class="s" x="331" y="655" font-size="5" >2</text>
<text class="s" x="346" y="664" font-size="12" >b'</text>
</g>
<g id="fig8">
<path class="" d="M477 464 L485 462.6 L497 461.4 L510 461.6 L522.4 461.6 L522.4 507 L517 504 L510 500 L503 498.4 L496 500 L488 503.6 L481 505 L477 505.6Z" fill="url(#hm)" stroke="#fff" stroke-width="1.1"/>
<ellipse class="w" cx="492.6" cy="477" rx="12.6" ry="10.4" />
<path d="M484 482 l10 -10 M488 485 l12 -12 M494 486 l9 -9" stroke="#000" stroke-width="0.9"/>
<path d="M486 468 h8 v6 h-8z" fill="#999"/>
<path class="t" d="M488 487 C489.7 487.2 495 488.5 498 488 C501 487.5 504 485.3 506 484 C508 482.7 509.8 481 510 480 C510.2 479 507.5 478.3 507 478" />
<text class="s" x="497" y="460" font-size="12" font-weight="bold">I</text>
</g>

<g id="fig5">
<circle class="l" cx="544.7" cy="628" r="50.7" stroke-width="1.5"/>
<path class="l" stroke-width="1.5" d="M677.6 644.5 A58.8 57.9 0 1 0 679.4 725.4 L680.6 719.5 L679.4 709.3 L677.6 695.2 L677.6 663 L676.7 656 Z"/>
<circle class="w" cx="611.3" cy="653.6" r="16" />
<circle class="w" cx="651.8" cy="648.5" r="16" />
<circle class="w" cx="595.5" cy="691.5" r="16" />
<circle class="w" cx="621" cy="722.3" r="16" />
<circle class="w" cx="662.1" cy="716.7" r="16" />
<path d="M677.6 663.8 A16 16 0 0 0 677.6 695.4Z" fill="#fff"/>
<circle class="t" cx="636.5" cy="685" r="18.6" />
<circle class="" cx="636.5" cy="685" r="16.6" fill="none" stroke="#fff" stroke-width="2.2" stroke-dasharray="0.9 0.9"/>
<circle class="l" cx="636.5" cy="685" r="13.4" />
<circle class="l" cx="636.5" cy="685" r="10.6" stroke-width="1.6"/>
<circle class="t" cx="636.5" cy="685" r="6.4" />
<circle class="" cx="636.5" cy="685" r="4.6" fill="#aaa"/>
<path class="kb" stroke-width="1.5" d="M515.3 564 H575.3 V742 L572 744.6 L566 741.6 L560 745 L553 742.6 L545 746 L536 743 L528 746 L521 742.6 L515.3 744Z"/>
<path d="M516 564 Q517 559 522 558 Q530 554 540 553.6 Q544 556 548 553 Q558 552 566 556 Q573 558 574.6 564Z" fill="url(#hf)"/>
<path class="d" d="M576 612 Q588 600 598 608 M577 640 Q578 620 592 612 M583 660 Q580 636 592 618"/>
<circle class="w" cx="596.7" cy="610.7" r="5" />
<rect class="kb" x="522" y="601.3" width="9.3" height="49.4" stroke-width="1.3"/>
<path class="l" d="M531.3 601.3 H575 M531.3 650.7 H575"/>
<path class="l" d="M575.3 601.3 Q564 601.5 559 603 M575.3 650.7 Q564 650.5 559 649"/>
<path class="t" d="M522 608 Q516.6 626 522 645"/>
<circle class="l" cx="543.3" cy="625.3" r="10.2" />
<circle class="t" cx="544.7" cy="587.5" r="3.4" />
<circle class="w" cx="544.7" cy="587.5" r="0.8" />
<path class="l" d="M553.6 634 H560 V640 H569 V634.6 H575 M560 622.4 V617 H569 V622.4 H575 M553 622.4 H560"/>
<path class="d" d="M560 641 V690 M569 641 V690 M560 652 H583 M560 664 H575 M560 672 H575 M560 680 H575"/>
<path d="M552 631 l5 -5 M555 633 l5 -5" class="t"/>
<path d="M516.7 686.7 H574.6 V711 Q566 721.4 545 721.6 Q526 721.4 516.7 712Z" fill="url(#hf)"/>
<circle class="" cx="556.7" cy="705.3" r="13.3" fill="#fff"/>
<circle class="" cx="556.7" cy="705.3" r="13.3" fill="url(#fg)" opacity="0.35"/>
<path d="M548 700 h7 v10 h-8z M558 699 h6 v10 h-6z" fill="none" stroke="#000" stroke-width="0.9"/>
<path class="l" d="M520 714 C520.3 716.3 522.2 723.2 522 728 C521.8 732.8 519.5 740.5 519 743" />
<path class="l" d="M571 714 C570.5 716.3 568 723.3 568 728 C568 732.7 570.5 739.7 571 742" />
<text class="s" x="513" y="556" font-size="10" >A</text>
<text class="s" x="537.6" y="627" font-size="7" >R</text>
<text class="s" x="543" y="623" font-size="4" >3</text>
<text class="s" x="578" y="626" font-size="12" >R</text>
<text class="s" x="600" y="616" font-size="10" >u'</text>
<text class="s" x="562" y="634" font-size="8" >R</text>
</g>

<g id="fig4">
<rect class="" x="96.8" y="644" width="121.2" height="122.4" fill="url(#hf)" stroke="#fff" stroke-width="1.2"/>
<rect class="k" x="97.4" y="684.8" width="120" height="39.8" />
<rect class="w" x="97.4" y="685" width="120" height="7.4" />
<rect class="w" x="97.4" y="717.8" width="120" height="7" />
<path d="M110 688.6H200" stroke="#888" stroke-width="0.5" fill="none"/>
<path d="M110 721.4H200" stroke="#888" stroke-width="0.5" fill="none"/>
<rect class="" x="100" y="692.4" width="106" height="3" fill="url(#fg)"/>
<rect class="" x="100" y="714.6" width="106" height="3" fill="url(#fg)"/>
<rect class="k" x="148" y="692.6" width="50" height="2.4" />
<rect class="k" x="148" y="715" width="50" height="2.4" />
<path d="M89.6 700.6 H250 V712.2 H92 Z" fill="#fff"/>
<path d="M96 705H200M96 707.4H200" stroke="#999" stroke-width="0.5" fill="none"/>
<path d="M200 703H250M200 706H250M200 709H250" stroke="#000" stroke-width="0.6" fill="none"/>
<rect class="w" x="198" y="694" width="20" height="6" />
<rect class="w" x="198" y="712.4" width="20" height="6" />
<path d="M224 678 H359.6 L363 734.4 H262 V727 H232 V722 H224 Z" fill="url(#hc)" stroke="#fff" stroke-width="1.1"/>
<rect class="w" x="224" y="694.8" width="121.2" height="22.8" />
<rect class="k" x="254" y="699.4" width="90" height="2.2" />
<rect class="k" x="254" y="705.4" width="90" height="5" />
<path d="M254 707H344M254 708.8H344" stroke="#aaa" stroke-width="0.6" fill="none"/>
<path d="M252 713.6H344" stroke="#777" stroke-width="0.5" fill="none"/>
<path d="M251 695V717M253.6 695V717" stroke="#000" stroke-width="0.7" fill="none"/>
<path d="M226 702H250M226 710.6H250" stroke="#000" stroke-width="0.7" fill="none"/>
<rect class="w" x="230" y="718.4" width="42" height="14" />
<rect class="k" x="233" y="721" width="30.6" height="4.6" />
<rect class="k" x="233" y="727.4" width="30.6" height="4.6" />
<rect class="w" x="220.4" y="657.6" width="4.8" height="97.2" />
<path d="M225.2 658 L228 658 L237 676 L225.2 676Z" fill="#000" stroke="#fff" stroke-width="1"/>
<path d="M225.2 736 H231 V752 H225.2Z" fill="#000" stroke="#fff" stroke-width="1"/>
<path d="M209 666 H219 V684 L226 694 H209Z" fill="url(#fg)"/>
<path d="M209 748 H219 V730 L226 718 H209Z" fill="url(#fg)"/>
<path d="M218 684 L232 696 M218 730 L230 718" stroke="#fff" stroke-width="1.6"/>
<path d="M207 686V700M210 686V700" stroke="#fff" stroke-width="0.9" fill="none"/>
<path d="M207 714V726M210 714V726" stroke="#fff" stroke-width="0.9" fill="none"/>
<path class="d" d="M108.4 632 L108.4 776" stroke-dasharray="2.5 2"/>
<path class="d" d="M185 632 L208 690"  stroke-dasharray="2.5 2"/>
<path class="d" d="M130 724 L137 780"  stroke-dasharray="2.5 2"/>
<path class="d" d="M176 726 L172 776"  stroke-dasharray="2.5 2"/>
<path class="d" d="M206 730 L196 776"  stroke-dasharray="2.5 2"/>
<path class="d" d="M238 674 L254 664"  stroke-dasharray="2.5 2"/>
<path class="d" d="M234 752 L244 734"  stroke-dasharray="2.5 2"/>
<path class="d" d="M232 752 L229 736"  stroke-dasharray="2.5 2"/>
<text class="s" x="106" y="632" font-size="10" >s</text>
<text class="s" x="182" y="632" font-size="10" >r</text>
<text class="s" x="149" y="668" font-size="13" >B</text>
<text class="s" x="83" y="686" font-size="11" >E</text>
<text class="s" x="88" y="674" font-size="5" >2</text>
<text class="s" x="83" y="728" font-size="10" >F</text>
<text class="s" x="90" y="724" font-size="5" >2</text>
<text class="s" x="105" y="786" font-size="9" >3</text>
<text class="s" x="134" y="790" font-size="10" >F'</text>
<text class="s" x="168" y="786" font-size="10" >m</text>
<text class="s" x="192" y="786" font-size="10" >r</text>
<text class="s" x="224" y="652" font-size="11" >F'</text>
<text class="s" x="252" y="666" font-size="11" >F</text>
<text class="s" x="260" y="660" font-size="6" >2</text>
<text class="s" x="229" y="763" font-size="9" >R</text>
</g>

<g id="fig6">
<rect class="w" x="320.7" y="765.7" width="120.5" height="120.1" />
<rect x="322" y="766.6" width="118" height="4.6" fill="url(#hf)"/>
<rect x="322" y="802" width="118" height="4.6" fill="url(#hf)"/>
<rect x="322" y="845" width="118" height="4.6" fill="url(#hf)"/>
<rect x="322" y="879.6" width="118" height="5.6" fill="url(#hf)"/>
<path d="M321 773.4H441" stroke="#888" stroke-width="0.5" fill="none"/>
<path d="M321 777.6H441M321 779.6H441M321 781.4H441M321 783.2H441M321 785H441M321 786.8H441M321 788.6H441M321 790.4H441M321 792.2H441M321 794H441M321 795.8H441" stroke="#000" stroke-width="1.0" fill="none"/>
<path d="M321 798H441M321 800H441" stroke="#000" stroke-width="0.5" fill="none"/>
<path d="M321 853H441M321 855.4H441" stroke="#888" stroke-width="0.5" fill="none"/>
<path d="M321 858H441M321 860H441M321 861.8H441M321 863.6H441M321 865.4H441M321 867.2H441M321 869H441M321 870.8H441M321 872.6H441M321 874.4H441" stroke="#000" stroke-width="1.0" fill="none"/>
<path d="M321 876.6H441" stroke="#000" stroke-width="0.5" fill="none"/>
<rect class="" x="346" y="811" width="111" height="4.6" fill="url(#fg)"/>
<rect class="" x="346" y="837" width="111" height="4.6" fill="url(#fg)"/>
<rect class="k" x="349" y="815.6" width="74" height="7.4" />
<rect class="k" x="349" y="829" width="74" height="7.4" />
<path d="M351 823 v-4 M351 829 v4" stroke="#fff" stroke-width="2"/>
<path d="M356.9 823 v-4 M356.9 829 v4" stroke="#fff" stroke-width="2"/>
<path d="M362.8 823 v-4 M362.8 829 v4" stroke="#fff" stroke-width="2"/>
<path d="M368.7 823 v-4 M368.7 829 v4" stroke="#fff" stroke-width="2"/>
<path d="M374.6 823 v-4 M374.6 829 v4" stroke="#fff" stroke-width="2"/>
<path d="M380.5 823 v-4 M380.5 829 v4" stroke="#fff" stroke-width="2"/>
<path d="M386.4 823 v-4 M386.4 829 v4" stroke="#fff" stroke-width="2"/>
<path d="M392.3 823 v-4 M392.3 829 v4" stroke="#fff" stroke-width="2"/>
<path d="M398.2 823 v-4 M398.2 829 v4" stroke="#fff" stroke-width="2"/>
<path d="M404.1 823 v-4 M404.1 829 v4" stroke="#fff" stroke-width="2"/>
<path d="M410 823 v-4 M410 829 v4" stroke="#fff" stroke-width="2"/>
<path d="M415.9 823 v-4 M415.9 829 v4" stroke="#fff" stroke-width="2"/>
<path d="M421.8 823 v-4 M421.8 829 v4" stroke="#fff" stroke-width="2"/>
<path d="M349 826H423" stroke="#666" stroke-width="0.9" fill="none"/>
<path d="M349 826 H423" stroke="#000" stroke-width="1" stroke-dasharray="3 2"/>
<rect class="k" x="324" y="812.6" width="19.4" height="6.8" />
<circle class="k" cx="434.4" cy="825.7" r="6.8" />
<rect class="" x="427" y="806" width="10" height="5" fill="url(#hb)"/>
<rect class="" x="427" y="841.6" width="10" height="5" fill="url(#hb)"/>
<rect class="k" x="434.6" y="804.4" width="5.6" height="6.6" />
<rect class="k" x="434.6" y="841.6" width="5.6" height="6.6" />
<rect class="w" x="441.2" y="815.6" width="16" height="20.6" />
<rect class="k" x="445.7" y="815.6" width="10.3" height="20.4" />
<path class="kb" stroke-width="1.3" d="M456.4 787.2 H466 V798.6 H474.4 V852 H466 V865.4 H456.4Z"/>
<rect class="" x="457.4" y="803" width="16.4" height="45.4" fill="url(#hb)"/>
<rect class="k" x="467.2" y="816.6" width="5.8" height="19.4" />
<path class="t" d="M457 803 L474 803" />
<path class="t" d="M457 848.4 L474 848.4" />
<path d="M242.5 819.6 H350 V828 H246 Z" fill="#fff"/>
<path d="M248 822.4H346M248 824.6H346" stroke="#777" stroke-width="0.5" fill="none"/>
<path d="M252.6 828 H346 V846 H318 V849 H311 V842.6 H252.6Z" fill="#fff"/>
<path d="M254 829 H344 V841.6 H254Z" fill="url(#hc)" opacity="0.28"/>
<rect class="k" x="266.6" y="832" width="10.4" height="4.6" />
<path class="kb" stroke-width="1.2" d="M269 836 L273.6 836 L283 869.6 L276 871.6 L270.6 870.4Z"/>
<path d="M316 804 l3 4 l-1 4 l3 2 v6 h-4z" fill="#fff"/>
<path d="M312 846 l4 -3 h6 v5 l-5 1 l-3 4z" fill="#fff"/>
<text class="s" x="297" y="798" font-size="12" >E</text>
<text class="s" x="311" y="786" font-size="7" >3</text>
<text class="s" x="292" y="851" font-size="11" >a</text>
<text class="s" x="254" y="869" font-size="9" >H</text>
<text class="s" x="442" y="812" font-size="9" >F</text>
<text class="s" x="470" y="794" font-size="11" >F'</text>
<text class="s" x="478" y="812" font-size="11" >F</text>
<text class="s" x="488" y="803" font-size="5" >2</text>
<text class="s" x="478" y="832" font-size="10" >R</text>
<text class="s" x="490" y="824" font-size="6" >3</text>
</g>

<g id="fig10">
<circle class="l" cx="96" cy="262.8" r="3.6" />
<path class="l" d="M98.6 265.4 C100.8 268 107.8 276.2 112 281 C116.2 285.8 120.4 289.9 124 294 C127.6 298.1 132 303.7 133.6 305.6" />
<path class="l" d="M93.6 266 C94.5 269.7 96.9 280.7 99 288 C101.1 295.3 104 304 106 310 C108 316 109.7 320.3 111 324 C112.3 327.7 112.5 329.9 114 332 C115.5 334.1 117.3 335.7 120 336.6 C122.7 337.5 125 337.4 130 337.6 C135 337.8 146.7 337.8 150 337.8" />
<circle class="l" cx="123.7" cy="329" r="6.4" />
<circle class="w" cx="123.7" cy="329" r="0.7" />
<path class="l" d="M129 317.1 L134.1 305.6" stroke-width="1.7"/>
<path class="l" d="M130.6 318 L137.3 307.3" stroke-width="1.7"/>
<path class="l" d="M132.1 319 L140.2 309.4" stroke-width="1.7"/>
<path class="l" d="M133.4 320.3 L142.7 311.9" stroke-width="1.7"/>
<path class="l" d="M134.5 321.7 L144.9 314.7" stroke-width="1.7"/>
<path class="l" d="M135.4 323.3 L146.7 317.8" stroke-width="1.7"/>
<path class="l" d="M136.1 325 L148 321.1" stroke-width="1.7"/>
<path class="l" d="M136.5 326.7 L148.9 324.6" stroke-width="1.7"/>
<path class="l" d="M136.7 328.5 L149.3 328.1" stroke-width="1.7"/>
<path class="l" d="M136.6 330.4 L149.2 331.7" stroke-width="1.7"/>
<path class="l" d="M136.3 332.1 L148.5 335.2" stroke-width="1.7"/>
<path class="l" d="M133.4 304.9 A26 26 0 0 1 148.3 337.5" />
<path class="t" d="M128.4 317.3 A12.6 12.6 0 0 1 135.6 333.1" />
<text class="s" x="110" y="304" font-size="9" >11</text>
<text class="s" x="150" y="320" font-size="11" >d'</text>
</g>
<g id="fig9">
<path class="l" d="M181.7 329.6 A28.6 24.8 0 0 1 220.7 349.1" />
<path class="l" d="M220.7 349.1 q2.6 1 2.4 5 q-.6 3 -2.8 3.4"/>
<path class="l" d="M220.4 357.8 A28.6 24.8 0 0 1 181.7 375.6" />
<circle class="l" cx="192.4" cy="352.6" r="13.8" stroke-width="1.4"/>
<path class="l" d="M185.6 366.6 L179.9 375.6" stroke-width="1.6"/>
<path class="l" d="M183.5 365.4 L176 373.6" stroke-width="1.6"/>
<path class="l" d="M181.6 363.8 L172.5 371" stroke-width="1.6"/>
<path class="l" d="M179.9 362 L169.6 368" stroke-width="1.6"/>
<path class="l" d="M178.6 359.9 L167.1 364.6" stroke-width="1.6"/>
<path class="l" d="M177.6 357.7 L165.4 360.9" stroke-width="1.6"/>
<path class="l" d="M177 355.3 L164.2 357" stroke-width="1.6"/>
<path class="l" d="M176.8 352.9 L163.8 353" stroke-width="1.6"/>
<path class="l" d="M177 350.4 L164.1 349" stroke-width="1.6"/>
<path class="l" d="M177.5 348 L165 345.1" stroke-width="1.6"/>
<path class="l" d="M178.4 345.8 L166.7 341.4" stroke-width="1.6"/>
<path class="l" d="M179.6 343.7 L169 337.9" stroke-width="1.6"/>
<path class="l" d="M181.2 341.8 L171.8 334.8" stroke-width="1.6"/>
<path class="l" d="M183 340.1 L175.2 332.2" stroke-width="1.6"/>
<path class="l" d="M185.1 338.8 L179 330" stroke-width="1.6"/>
<path class="l" d="M180.6 376.4 A29 26 0 0 1 180.6 328.8" />
<text class="s" x="188" y="330" font-size="12" >b</text>
<text class="s" x="152" y="360" font-size="12" >d</text>
<text class="s" x="234" y="365" font-size="11" >h</text>
</g>

<g id="sig" class="s" stroke="#fff" stroke-width="0.3">
<path class="l" d="M100.7 882.4 C101.2 881.5 102.9 879 104.1 877.1 C105.3 875.2 107.6 872.4 107.9 871.1 C108.2 869.8 105.2 869.8 105.8 869.4 C106.4 869 110 868.6 111.3 868.5 C112.7 868.5 113.9 867 113.9 869 C113.9 870.9 111.1 879.2 111.3 880.3 C111.5 881.3 113.9 877 115.2 875.4 C116.5 873.8 117.9 871.7 119 870.7 C120.2 869.6 121.5 869.2 122 869" stroke-width="2.0"/>
<path class="l" d="M122 882.2 C122.3 881.5 123 879.1 123.7 877.9 C124.4 876.8 125.8 875.8 126.3 875.4" stroke-width="1.7"/>
<path class="l" d="M130.5 870.2 C130.2 871.4 128.9 875.2 128.4 877.1 C127.9 878.9 127.2 880.7 127.5 881.3 C127.9 882 130 881 130.5 880.9" stroke-width="1.7"/>
<path class="l" d="M125.8 874.5 L134.8 873.2" stroke-width="1.5"/>
<path class="l" d="M133.7 880.9 C134.1 880.1 135.2 877.2 136.1 876.2 C137 875.2 138.7 874.2 139.1 874.9 C139.4 875.6 137.7 880.3 138.2 880.5 C138.7 880.6 141 876.7 142.1 875.8 C143.1 874.9 144.3 874.2 144.6 874.9 C144.9 875.7 143.9 879.6 143.8 880.5" stroke-width="1.6"/>
<path class="l" d="M147.6 877.5 C148.3 877.2 151.5 876.3 151.9 875.8 C152.2 875.3 150.5 874.2 149.7 874.5 C149 874.9 147.2 876.9 147.2 877.9 C147.2 879 148.7 880.8 149.7 880.9 C150.8 881 152.9 879.1 153.6 878.8" stroke-width="1.6"/>
<path class="l" d="M156.1 880.5 C156.8 880.2 160 879.6 160.4 878.8 C160.8 878 158 876.6 158.3 875.8 C158.6 875 161.5 874.4 162.1 874.1" stroke-width="1.6"/>
<path class="l" d="M165.1 880.1 C165.8 879.8 169 879.1 169.4 878.3 C169.7 877.6 166.9 876.1 167.2 875.4 C167.5 874.6 170.4 873.9 171.1 873.7" stroke-width="1.6"/>
<path class="l" d="M175.3 876.6 C176 876.4 179.2 875.4 179.6 874.9 C180 874.4 178.2 873.3 177.5 873.7 C176.7 874 174.9 876 174.9 877.1 C174.9 878.1 176.4 879.9 177.5 880.1 C178.5 880.2 180.7 878.3 181.3 877.9" stroke-width="1.6"/>
<path class="l" d="M184.3 879.2 C185 878.9 188.2 878.3 188.6 877.5 C188.9 876.7 186.1 875.3 186.4 874.5 C186.7 873.7 189.6 873.1 190.3 872.8" stroke-width="1.6"/>
<path class="l" d="M192.4 878.8 C193.1 878.5 196.2 877.8 196.7 877.1 C197.1 876.3 194.2 874.4 195 874.1 C195.7 873.8 199.9 875.1 200.9 875.4" stroke-width="1.6"/>
<path class="l" d="M132.7 895.2 C132.1 896.4 130.9 900 129.5 902.7 C128 905.3 126.8 908.4 124.1 911.2 C121.5 914 117.4 917.4 113.5 919.7 C109.6 922 103.7 924.4 100.7 925.1 C97.6 925.8 95.7 924.9 95.3 924 C95 923.1 96.2 921.1 98.5 919.7 C100.8 918.4 105.3 916.9 109.2 915.9 C113.1 914.9 117.6 914.4 122 913.8 C126.4 913.2 133.6 912.5 135.9 912.3" stroke-width="1.7"/>
<path class="l" d="M122 905.9 C122.9 906.2 125.6 906.8 127.3 908 C129.1 909.2 132.1 911.7 132.7 913.3 C133.2 914.9 130.9 916.9 130.5 917.6" stroke-width="1.4"/>
<path class="l" d="M154 896.3 C153.5 897.7 152.2 901.5 150.8 904.8 C149.4 908.1 146.7 914 145.9 915.9" stroke-width="1.7"/>
<path class="l" d="M163.6 895.2 C163.1 896.6 161.6 900.7 160.4 903.7 C159.2 906.8 156.8 911.7 156.1 913.3" stroke-width="1.7"/>
<path class="l" d="M147.6 908 C149 907.6 153.5 906.6 156.1 905.9 C158.8 905.2 162.4 904.1 163.6 903.7" stroke-width="1.3"/>
<path class="l" d="M160.4 908 C162 908.1 166.8 909.5 170 908.8 C173.2 908.1 175.9 906.1 179.6 904 C183.3 901.9 188.9 897.9 192.4 896 C195.9 894.1 199.6 892.5 200.4 892.8 C201.2 893.1 199.3 895.5 197.2 897.6 C195.1 899.7 189.7 903.6 187.6 905.6 C185.5 907.6 183.9 909.2 184.4 909.6 C184.9 910 189.7 908.3 190.8 908" stroke-width="2.1"/>
<path class="l" d="M190.8 908 C191.6 908.4 194 910.5 195.6 910.4 C197.2 910.3 198.9 907.5 200.4 907.4 C201.9 907.4 202.9 910.2 204.4 910.2 C205.9 910.2 207.7 907.3 209.2 907.2 C210.7 907.2 211.7 910 213.2 910 C214.7 910 216.5 907.1 218 907 C219.5 907 220.5 909.9 222 909.8 C223.5 909.8 225.3 906.9 226.8 906.8 C228.3 906.8 229.3 909.7 230.8 909.6 C232.3 909.6 234 906.7 235.6 906.7 C237.2 906.6 238.8 909.5 240.4 909.4 C242 909.4 243.6 906.5 245.2 906.5 C246.8 906.4 248.4 909.3 250 909.2 C251.6 909.2 253.2 906.3 254.8 906.3 C256.4 906.2 257.7 909.1 259.6 909.1 C261.5 909 263.9 906.1 266 906.1 C268.1 906 271.3 908.4 272.4 908.9" stroke-width="1.8"/>
<path class="l" d="M272.4 905.9 C272.7 906.1 275.1 905.4 274 907.2 C272.9 909 268.9 913.6 266 916.8 C263.1 920 259.3 924.1 256.4 926.4 C253.5 928.7 249.7 930.4 248.4 930.4 C247.1 930.4 246.5 928.4 248.4 926.4 C250.3 924.4 257.7 919.7 259.6 918.4" stroke-width="1.9000000000000001"/>
<path class="l" d="M119.9 914.4 C119.2 916 117.4 921.2 115.6 924 C113.8 926.8 111.3 929.7 109.2 931.5 C107.1 933.2 103.3 934.7 102.8 934.7 C102.3 934.7 104.2 932.1 106 931.5 C107.8 930.8 110.8 930.5 113.5 930.8 C116.1 931.2 120.6 933.1 122 933.6" stroke-width="1.7"/>
<circle class="w" cx="128" cy="935" r="1.2" />
<path class="l" d="M140.1 924 C139.8 925.1 138.7 928.8 138 930.4 C137.3 932 135 933.2 135.9 933.6 C136.8 934 141.7 933.6 143.3 932.5 C145 931.5 146.1 928.7 145.9 927.2 C145.7 925.7 143.8 924 142.3 923.6 C140.8 923.1 137.8 924.3 136.9 924.4" stroke-width="1.6"/>
<circle class="w" cx="153" cy="934" r="1.2" />
<path class="l" d="M174.8 932.8 C175.3 930.9 177.2 924.3 178 921.6 C178.8 918.9 180.4 917.3 179.6 916.8 C178.8 916.3 173.2 918.8 173.2 918.4 C173.2 918 177.2 914.8 179.6 914.4 C182 914 186.8 914.8 187.6 916 C188.4 917.2 186 920.3 184.4 921.6 C182.8 922.9 177.5 923.2 178 924 C178.5 924.8 184.9 925.7 187.6 926.4 C190.3 927.1 192.4 928.1 194 928 C195.6 927.9 196.1 925.6 197.2 925.6 C198.3 925.6 200.4 927.3 200.4 928 C200.4 928.7 198.1 929.9 197.2 929.9 C196.3 929.9 195.2 928.3 194.8 928" stroke-width="2.0"/>
<path class="l" d="M202 926.4 C200.9 928.5 198.3 935.7 195.6 939.2 C192.9 942.7 188.4 945.6 186 947.2 C183.6 948.8 181.5 949.6 181.2 948.8 C180.9 948 181.5 945.3 184.4 942.4 C187.3 939.5 195.1 933.6 198.8 931.2 C202.5 928.8 204.9 928.8 206.8 928 C208.7 927.2 208.9 926.3 210 926.4 C211.1 926.5 211.9 928.8 213.2 928.8 C214.5 928.8 216.7 926.4 218 926.4 C219.3 926.4 219.9 928.5 221.2 928.8 C222.5 929.1 225.2 928.1 226 928" stroke-width="1.9000000000000001"/>
<path class="l" d="M230.5 929 L234 928.8" stroke-width="2.1"/>
<path class="l" d="M491.3 886.3 C492.2 885.2 494.4 882.1 496.7 879.7 C498.9 877.2 503.7 871 504.7 871.7 C505.6 872.3 501.9 882.6 502.5 883.7 C503.2 884.8 506.8 879.9 508.7 878.3 C510.6 876.8 513.3 873.2 514 874.3 C514.7 875.4 512.9 883.2 512.7 885" stroke-width="2.1"/>
<path class="l" d="M514.8 885.3 C515.6 884.6 518.5 881 519.5 881 C520.5 881 520 885.3 521 885.3 C522.1 885.3 524.7 881 525.7 881 C526.8 881 526.2 885.3 527.2 885.3 C528.3 885.3 530.9 881 532 881 C533 881 533.2 884.6 533.5 885.3" stroke-width="1.8"/>
<circle class="w" cx="537.2" cy="885" r="1" />
<path class="l" d="M547.3 885.8 C548.2 884.6 550.8 880.6 552.7 878.3 C554.5 876.1 557.8 871.6 558.5 872.5 C559.2 873.4 556.2 882.7 556.9 883.7 C557.6 884.6 561 879.8 562.8 878.3 C564.6 876.9 567.1 874 567.6 875.1 C568.1 876.3 566.3 883.6 566 885.3" stroke-width="2.1"/>
<path class="l" d="M579.9 880.5 C579 880.5 575.8 879.8 574.5 880.5 C573.3 881.1 572.1 883.3 572.4 884.2 C572.7 885.1 574.9 886.3 576.1 885.8 C577.4 885.3 579.3 881 579.9 881 C580.4 881 578.9 885.1 579.3 885.8 C579.8 886.5 582 885.4 582.5 885.3" stroke-width="1.8"/>
<path class="l" d="M587.3 885.8 C588.3 885.4 592.8 884.6 593.2 883.7 C593.6 882.7 589.6 880.8 590 879.9 C590.4 879 594.4 878.6 595.3 878.3" stroke-width="1.8"/>
<path class="l" d="M604.7 879.9 C604 880.4 601 881.5 600.7 882.6 C600.4 883.7 601.6 886.1 602.8 886.3 C604 886.6 606.9 885.2 607.6 884.2 C608.3 883.2 607.6 881.2 607.1 880.5 C606.6 879.8 605.1 880 604.7 879.9" stroke-width="1.8"/>
<path class="l" d="M610.8 886.3 C611.6 885.4 614.7 881 615.9 881 C617 881 616.6 886.3 617.7 886.3 C618.9 886.3 621.6 881 622.8 881 C624 881 624.4 885.4 624.7 886.3" stroke-width="1.8"/>
<path class="l" d="M584.1 892.2 C585.1 892 588 891 590 891.1 C592 891.3 594.9 892.9 595.9 893.3" stroke-width="1.9"/>
<path class="l" d="M590.5 891.7 C589.8 892.7 587.8 896.3 586.3 898.1 C584.8 899.8 581.8 901.5 581.5 902.3 C581.1 903.1 583.7 902.8 584.1 902.9" stroke-width="1.9"/>
<path class="l" d="M592.1 902.3 C593.1 901.5 596.5 897.4 597.9 897.4 C599.2 897.4 599 902.1 600.4 902.1 C601.8 902 604.8 897.2 606.1 897.1 C607.5 897.1 608.2 901 608.7 901.8" stroke-width="1.7"/>
<path class="l" d="M608.7 897 C609.2 897.8 610.6 902 611.9 901.8 C613.1 901.6 615.4 896.9 616.1 895.9" stroke-width="1.7"/>
<path class="l" d="M619.3 898.6 C620.1 898.2 623.9 896.9 624.1 896.5 C624.4 896 621.9 895.4 620.9 895.9 C620 896.5 618.3 898.6 618.3 899.7 C618.3 900.7 619.7 902.2 620.9 902.3 C622.2 902.4 624.9 900.6 625.7 900.2" stroke-width="1.7"/>
<path class="l" d="M627.3 901.8 C628.2 901 631.2 896.9 632.3 896.9 C633.4 896.8 632.9 901.6 634 901.5 C635.1 901.5 637.8 896.6 638.9 896.6 C640 896.6 640.4 900.5 640.7 901.3" stroke-width="1.7"/>
<path class="l" d="M649.2 889 C648.8 890.3 647.1 894.9 646.5 897 C646 899.1 645.6 901.1 646 901.8 C646.4 902.5 648.7 901.4 649.2 901.3" stroke-width="1.9"/>
<path class="l" d="M643.3 894.9 L654 893.3" stroke-width="1.7"/>
<path class="l" d="M655.1 895.4 C654.5 895.8 652 897.1 651.9 898.1 C651.7 899 652.9 901.1 654 901.3 C655.1 901.4 657.6 900.1 658.3 899.1 C658.9 898.2 658.3 896 657.7 895.4 C657.2 894.8 654.7 895.5 655.1 895.4 C655.4 895.3 658.6 894.7 659.9 894.9 C661.1 895 662.1 896.2 662.5 896.5" stroke-width="1.7"/>
<path class="l" d="M663.6 894.9 C663.4 895.7 662.2 899.5 662.5 899.7 C662.9 899.8 664.8 896.7 665.7 895.9 C666.6 895.1 667.5 895 667.9 894.9" stroke-width="1.7"/>
<path class="l" d="M478 914.3 C478.7 913.2 480.9 909.7 482.3 907.7 C483.6 905.7 485.4 903.2 486 902.3" stroke-width="2.0"/>
<path class="l" d="M481.7 903.9 C482.6 903.5 485.7 901.3 487.1 901.3 C488.4 901.3 490.1 902.9 489.7 903.9 C489.4 905 485 906.8 484.9 907.7 C484.8 908.6 489.1 908.3 489.2 909.3 C489.3 910.2 487 912.6 485.5 913.5 C484 914.4 481 914.4 480.1 914.6" stroke-width="1.9"/>
<path class="l" d="M492.4 907.7 C492.6 908.4 492.8 911.4 493.5 911.9 C494.2 912.5 495.8 911.8 496.7 910.9 C497.6 910 498.9 905.5 498.8 906.6 C498.7 907.7 497.4 914.8 496.1 917.3 C494.9 919.8 491.9 921.5 491.3 921.5 C490.8 921.5 491.5 918.9 492.9 917.3 C494.4 915.7 498.7 912.8 499.9 911.9" stroke-width="1.8"/>
<path class="l" d="M511.6 907.7 C510.9 907.8 508.3 907.4 507.3 908.2 C506.4 909 505.4 911.7 505.7 912.5 C506.1 913.3 508.3 913.7 509.5 913 C510.6 912.3 512.2 908.2 512.7 908.2 C513.1 908.2 511.7 912.4 512.1 913 C512.6 913.6 514.8 912.1 515.3 911.9" stroke-width="1.8"/>
<path class="l" d="M519.6 901.3 C519.2 902.6 517.4 907.3 516.9 909.3 C516.5 911.2 516.5 912.6 516.9 913 C517.4 913.4 519.2 912.1 519.6 911.9" stroke-width="1.8"/>
<path class="l" d="M524.9 900.7 C524.5 902.1 522.7 906.8 522.3 908.7 C521.8 910.7 521.8 912 522.3 912.5 C522.7 912.9 524.5 911.6 524.9 911.4" stroke-width="1.8"/>
<path class="l" d="M515.3 905 L527.6 903.4" stroke-width="1.7"/>
<path class="l" d="M529.2 907.1 C529.4 907.8 529.6 910.9 530.3 911.4 C531 911.9 532.6 911.2 533.5 910.3 C534.4 909.4 535.6 905.2 535.6 906.1 C535.6 907 534.5 913.4 533.5 915.7 C532.4 917.9 529.7 919.4 529.2 919.4 C528.7 919.4 528.9 917.2 530.3 915.7 C531.6 914.2 536 911.2 537.2 910.3" stroke-width="1.8"/>
<circle class="w" cx="547.9" cy="900.2" r="1.1" />
<path class="l" d="M503.3 930 C498.3 929.7 481.7 927.5 473.3 928.3 C465 929.2 457.5 932.5 453.3 935 C449.2 937.5 447.2 940.9 448.3 943.3 C449.4 945.7 454.2 948.8 460 949.3 C465.8 949.9 475.6 948.8 483.3 946.7 C491.1 944.6 500.6 940.3 506.7 936.7 C512.8 933.1 517.2 927.8 520 925 C522.8 922.2 523.3 919.2 523.3 920 C523.3 920.8 521.8 925.8 520 930 C518.2 934.2 513.5 941.2 512.7 945 C511.8 948.8 513.5 951.8 515 952.7 C516.5 953.5 520.6 950.4 521.7 950" stroke-width="2.6"/>
<path class="l" d="M480 943.3 C480.8 941.9 481.7 937.1 485 935 C488.3 932.9 494.7 931.2 500 930.7 C505.3 930.1 512.8 930.9 516.7 931.7 C520.6 932.4 522.2 934.4 523.3 935" stroke-width="2.6"/>
<path class="l" d="M537.3 920 C536.8 922.5 535.2 929.7 534 935 C532.8 940.3 530.7 948.9 530 951.7" stroke-width="2.6"/>
<path class="l" d="M530 951.7 C530.8 950 533.1 943.6 535 941.7 C536.9 939.7 540.4 939.2 541.7 940 C542.9 940.8 542.7 944.6 542.7 946.7 C542.7 948.8 540.7 952 541.7 952.7 C542.6 953.3 546.7 951.8 548.3 950.7 C550 949.6 550.8 945.8 551.7 946 C552.5 946.2 552.2 951.1 553.3 951.7 C554.4 952.2 556.9 950.3 558.3 949.3 C559.7 948.4 560.7 945.7 561.7 946 C562.6 946.3 562.9 950.2 564 951.3 C565.1 952.4 567.6 952.4 568.3 952.7" stroke-width="2.2"/>
<path class="l" d="M600 929.3 C597.8 929.7 590.6 930.2 586.7 931.7 C582.8 933.2 577.2 936.4 576.7 938.3 C576.1 940.3 580 942.8 583.3 943.3 C586.7 943.9 597.2 941.2 596.7 941.7 C596.1 942.1 584 944.3 580 946 C576 947.7 573.2 949.9 572.7 951.7 C572.1 953.4 573.8 955.8 576.7 956.7 C579.6 957.5 585.3 957.7 590 956.7 C594.7 955.7 602.5 951.7 605 950.7" stroke-width="2.6"/>
<path class="l" d="M638.3 929.3 C635.9 929.7 628.1 930 624 931.7 C619.9 933.3 614.4 937.4 614 939.3 C613.6 941.3 618.7 942.9 621.7 943.3 C624.6 943.8 632.5 941.6 631.7 942 C630.8 942.4 620.2 944.4 616.7 946 C613.2 947.6 611 949.7 610.7 951.3 C610.3 953 612 955.4 614.7 956 C617.3 956.6 623.6 955.8 626.7 954.7 C629.8 953.6 632.2 950.2 633.3 949.3" stroke-width="2.6"/>
<path class="l" d="M633.3 949.3 C634 948.6 635.9 945.6 637.3 945 C638.7 944.4 641.2 944.7 641.7 946 C642.1 947.3 639.4 951.9 640 952.7 C640.6 953.4 643.4 951.9 645 950.7 C646.6 949.4 648.3 945.1 649.3 945.3 C650.4 945.6 650.1 951.3 651.3 952 C652.6 952.7 654.8 951.2 656.7 949.3 C658.6 947.4 662.1 943.1 662.7 940.7 C663.2 938.3 660.9 934.6 660 935 C659.1 935.4 657.4 940.4 657.3 943.3 C657.2 946.3 658 951 659.3 952.7 C660.7 954.3 663.6 953.9 665.3 953.3 C667.1 952.8 669.2 950 670 949.3" stroke-width="2.1"/>
<circle class="w" cx="672.6" cy="953.6" r="1.6" />
</g>

</g>
</svg></body></html>
